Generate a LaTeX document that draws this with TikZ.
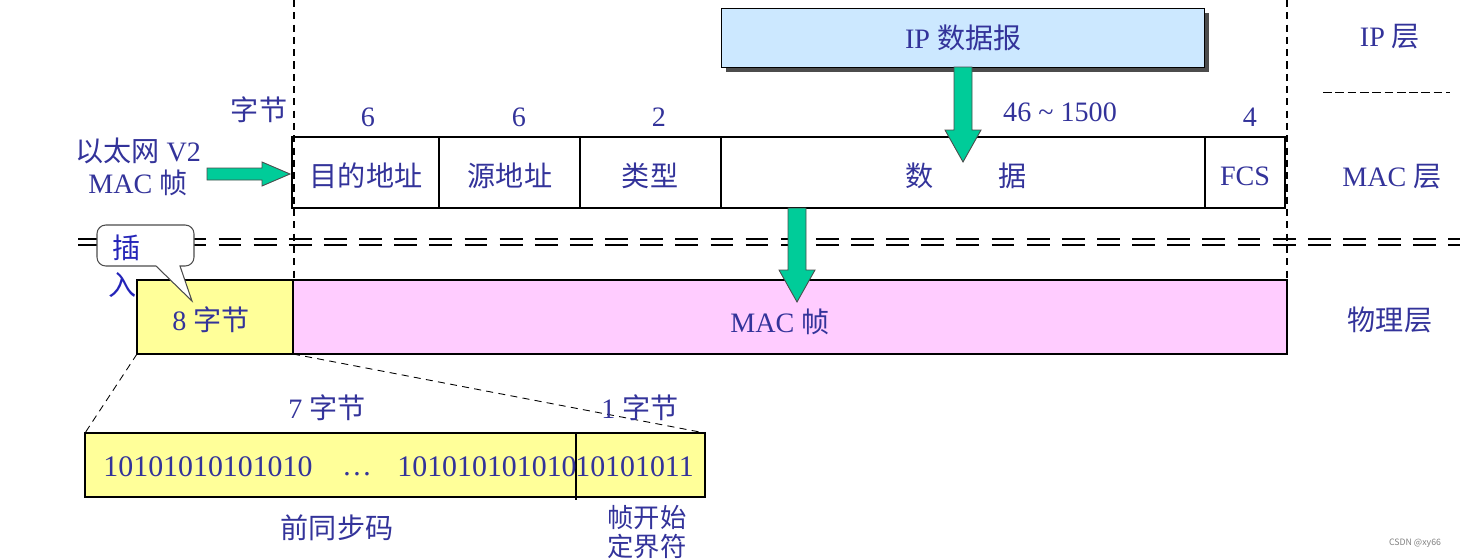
\documentclass[tikz,border=0pt]{standalone}
\usepackage{fontspec}
\setmainfont{Liberation Serif}
\newfontfamily\cjk{Noto Sans CJK SC}
\newcommand{\C}[1]{{\cjk #1}}
\definecolor{txt}{HTML}{33339A}
\definecolor{ipblue}{HTML}{CCE8FF}
\definecolor{yel}{HTML}{FFFF99}
\definecolor{pink}{HTML}{FFCCFF}
\definecolor{grn}{HTML}{00CC99}
\begin{document}
\begin{tikzpicture}[x=0.02cm,y=-0.02cm,
  lbl/.style={text=txt,font=\fontsize{16}{18}\selectfont,inner sep=0pt,align=center},
  bin/.style={lbl,font=\fontsize{17}{18}\selectfont},
  box/.style={draw=black,line width=1.5pt},
  vd/.style={dashed,line width=0.6pt,dash pattern=on 4pt off 3pt},
  garrow/.style={fill=grn,draw=black!70,line width=0.5pt}]
\useasboundingbox (0,0) rectangle (1463,558);
% dashed verticals
\draw[vd] (294,0) -- (294,355);
\draw[vd] (1287,0) -- (1287,285);
% IP box
\fill[black!70] (726,13) rectangle (1209,72);
\node[box,fill=ipblue,line width=0.8pt,minimum width=483*0.02cm,minimum height=59*0.02cm,anchor=north west,inner sep=0pt] (ip) at (721,8) {};
\node[lbl] at (ip.center) {IP \C{数据报}};
\node[lbl] (iplayer) at (1390,37) {IP \C{层}};
\draw[dashed,dash pattern=on 5pt off 2pt] (1323,92) -- (1450,92);
% byte counts
\node[lbl] at (259,110) {\C{字节}};
\node[lbl] at (368,117) {6};
\node[lbl] at (519,117) {6};
\node[lbl] at (659,117) {2};
\node[lbl] at (1060,112) {46 \textasciitilde{} 1500};
\node[lbl] at (1250,117) {4};
% MAC frame
\draw[box] (292,137) rectangle (1285,208);
\foreach \x in {439,580,721,1205} \draw[line width=0.6pt] (\x,137) -- (\x,208);
\node[lbl] at (366,176) {\C{目的地址}};
\node[lbl] at (510,176) {\C{源地址}};
\node[lbl] at (650,176) {\C{类型}};
\node[lbl] at (920,176) {\C{数}};
\node[lbl] at (1013,176) {\C{据}};
\node[lbl] at (1245,176) {FCS};
\node[lbl] at (1392,177) {MAC \C{层}};
\node[lbl] at (1390,320) {\C{物理层}};
\node[lbl] (v2) at (138,167) {\C{以太网} V2\\MAC \C{帧}};
% double dashed line
\draw[dashed,dash pattern=on 13pt off 7pt,line width=1pt] (78,239) -- (1460,239);
\draw[dashed,dash pattern=on 13pt off 7pt,line width=1pt] (78,245) -- (1460,245);
% physical layer
\draw[box,fill=yel] (137,280) rectangle (293,354);
\draw[box,fill=pink] (293,280) rectangle (1287,354);
\node[lbl] at (211,320) {8 \C{字节}};
\node[lbl] at (780,322) {MAC \C{帧}};
% green arrows
\draw[garrow] (207,168) -- (262,168) -- (262,162) -- (290,174) -- (262,186) -- (262,180) -- (207,180) -- cycle;
\draw[garrow] (954,67) -- (972,67) -- (972,130) -- (981,130) -- (963,162) -- (945,130) -- (954,130) -- cycle;
\draw[garrow] (788,208) -- (806,208) -- (806,270) -- (815,270) -- (797,302) -- (779,270) -- (788,270) -- cycle;
% callout
\draw[fill=white,draw=black!70,line width=0.6pt,rounded corners=5pt]
  (97,225) -- (194,225) -- (194,266) [sharp corners]-- (180,266) -- (192,301) -- (156,266) [rounded corners=5pt]-- (97,266) -- cycle;
\node[lbl,text=txt!70!blue] at (127,248) {\C{插}};
\node[lbl,text=txt!70!blue] at (123,285) {\C{入}};
% zoom lines
\draw[vd,line width=0.5pt] (137,354) -- (85,433);
\draw[vd,line width=0.5pt] (293,354) -- (705,433);
% preamble box
\draw[box,fill=yel,line width=1.2pt] (85,433) rectangle (705,497);
\draw[line width=0.6pt] (576,433) -- (576,500);
\node[bin] at (208,467) {10101010101010};
\node[bin] at (357,474) {\ldots};
\node[bin,anchor=east] at (577,467) {101010101010};
\node[bin,anchor=west] at (575,467) {10101011};
\node[lbl] at (327,408) {7 \C{字节}};
\node[lbl] at (640,408) {1 \C{字节}};
\node[lbl] at (337,528) {\C{前同步码}};
\node[lbl,font=\fontsize{15}{16}\selectfont\cjk] at (647,532) {帧开始\\定界符};
\node[font=\tiny\cjk,text=black!50,inner sep=0pt] at (1415,543) {CSDN @xy66};
\end{tikzpicture}
\end{document}
